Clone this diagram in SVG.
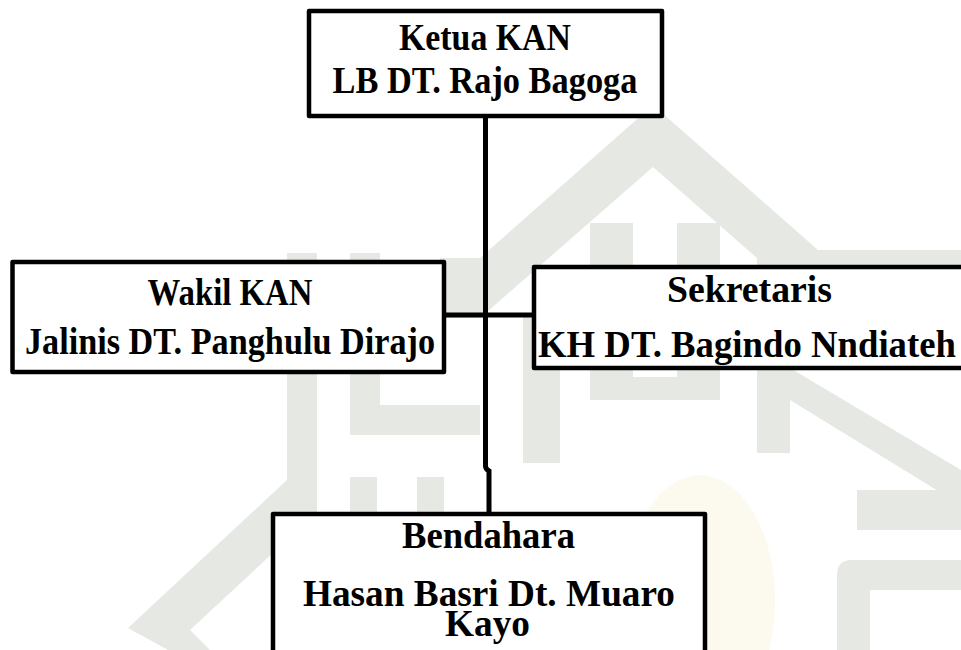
<svg xmlns="http://www.w3.org/2000/svg" width="961" height="650" viewBox="0 0 961 650">
  <style>
    .wm { fill: #e6e8e3; }
    .box { fill: #ffffff; stroke: #000000; stroke-width: 4.5; stroke-linejoin: round; }
    .t { font-family: "Liberation Serif", "Times New Roman", serif; font-weight: bold; font-size: 38px; fill: #000000; text-anchor: middle; }
    .conn { fill: none; stroke: #000000; stroke-width: 5; }
  </style>
  <rect x="0" y="0" width="961" height="650" fill="#ffffff"/>
  <g id="watermark">
    <ellipse cx="700" cy="600" rx="75" ry="125" fill="#fcfaee"/>
    <polygon class="wm" points="287,253 317,253 317,512 190,630 210,650 168,650 128,628 287,480"/>
    <rect class="wm" x="350" y="253" width="30" height="182"/>
    <rect class="wm" x="350" y="405" width="130" height="30"/>
    <rect class="wm" x="350" y="477" width="27" height="36"/>
    <rect class="wm" x="417" y="477" width="27" height="36"/>
    <polygon class="wm" points="440,258 480,258 653,105 818,250 961,250 961,273 757,273 757,258 653,167 480,318 440,318"/>
    <rect class="wm" x="590" y="223" width="43" height="177"/>
    <rect class="wm" x="677" y="223" width="43" height="177"/>
    <rect class="wm" x="590" y="377" width="130" height="23"/>
    <rect class="wm" x="523" y="317" width="37" height="146"/>
    <rect class="wm" x="757" y="363" width="33" height="90"/>
    <polygon class="wm" points="790,368 961,470 961,505 790,400"/>
    <rect class="wm" x="857" y="490" width="104" height="40"/>
    <path class="wm" fill-rule="evenodd" d="M852,560 H961 V650 H837 V575 Q837,560 852,560 Z M870,590 V650 H961 V590 Z"/>
  </g>
  <g id="connectors">
    <path class="conn" d="M485.5,116 V466 Q485.5,469 489,471 V514"/>
    <path class="conn" d="M444,315 H534"/>
  </g>
  <g id="ketua">
    <rect class="box" x="309" y="11" width="353" height="105"/>
    <text class="t" x="485" y="50" textLength="172" lengthAdjust="spacingAndGlyphs">Ketua KAN</text>
    <text class="t" x="485" y="93" textLength="305" lengthAdjust="spacingAndGlyphs">LB DT. Rajo Bagoga</text>
  </g>
  <g id="wakil">
    <rect class="box" x="12.5" y="262" width="431.5" height="110"/>
    <text class="t" x="230" y="305" textLength="165" lengthAdjust="spacingAndGlyphs">Wakil KAN</text>
    <text class="t" x="230" y="354" textLength="410" lengthAdjust="spacingAndGlyphs">Jalinis DT. Panghulu Dirajo</text>
  </g>
  <g id="sekretaris">
    <rect class="box" x="534" y="267" width="440" height="101"/>
    <text class="t" x="749.5" y="302" textLength="165" lengthAdjust="spacingAndGlyphs">Sekretaris</text>
    <text class="t" x="747" y="357" textLength="418" lengthAdjust="spacingAndGlyphs">KH DT. Bagindo Nndiateh</text>
  </g>
  <g id="bendahara">
    <rect class="box" x="273" y="514" width="432" height="150"/>
    <text class="t" x="488.5" y="548" textLength="173" lengthAdjust="spacingAndGlyphs">Bendahara</text>
    <text class="t" x="489" y="606" textLength="372" lengthAdjust="spacingAndGlyphs">Hasan Basri Dt. Muaro</text>
    <text class="t" x="487.5" y="636" textLength="85" lengthAdjust="spacingAndGlyphs">Kayo</text>
  </g>
</svg>
